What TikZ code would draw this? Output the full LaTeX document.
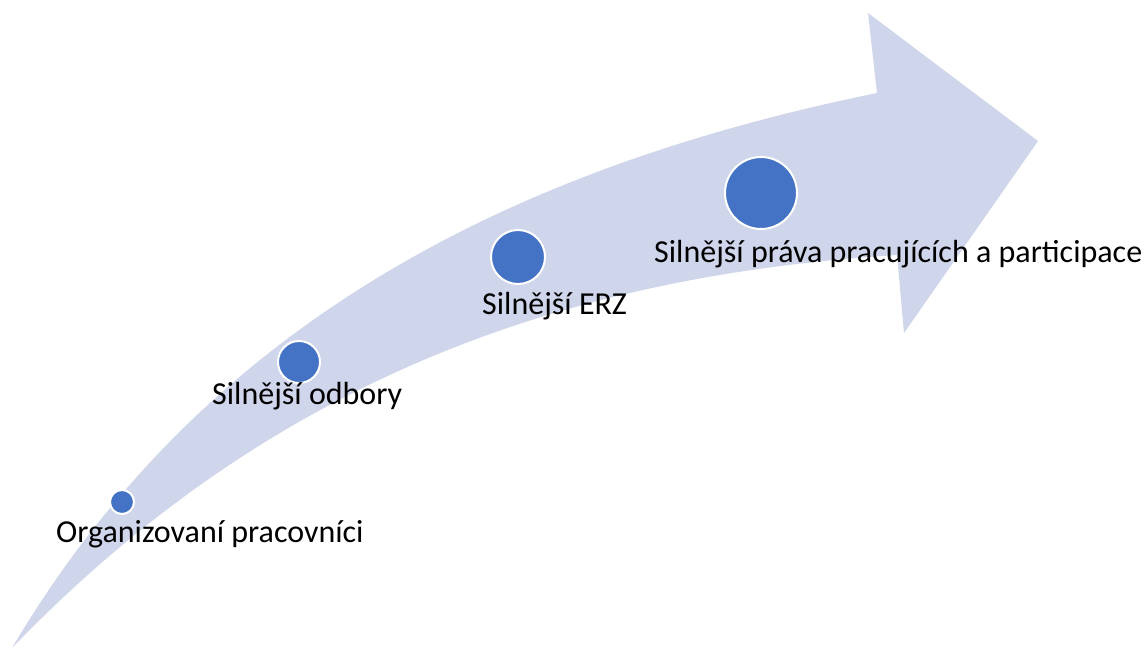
\documentclass[tikz,border=0pt]{standalone}
\usepackage{fontspec}
\setmainfont{Carlito}
\definecolor{pale}{HTML}{CFD5EA}
\definecolor{dotblue}{HTML}{4472C4}
\tikzset{
  dot/.style={circle, fill=dotblue, draw=white, line width=2pt, inner sep=0pt},
  lbl/.style={anchor=base west, inner sep=0pt, font=\fontsize{32}{36}\selectfont, text=black}
}
\begin{document}
\begin{tikzpicture}[x=1pt, y=-1pt]
\useasboundingbox (0,0) rectangle (1145,650);
% curved arrow
\fill[pale] (12,648) .. controls (200,330) and (500,170) .. (877,93)
  -- (868,13) -- (1038,141) -- (904,333) -- (897,255)
  .. controls (580,275) and (280,370) .. (12,648) -- cycle;
% dots
\node[dot, minimum size=24pt] (d1) at (122,502) {};
\node[dot, minimum size=42pt] (d2) at (299,362) {};
\node[dot, minimum size=54pt] (d3) at (518,257) {};
\node[dot, minimum size=72pt] (d4) at (761,193) {};
% labels
\node[lbl] (t1) at (56,542) {Organizovaní pracovníci};
\node[lbl] (t2) at (212,404) {Silnější odbory};
\node[lbl] (t3) at (482,314) {Silnější ERZ};
\node[lbl] (t4) at (654,262) {Silnější práva pracujících a participace};
\end{tikzpicture}
\end{document}
